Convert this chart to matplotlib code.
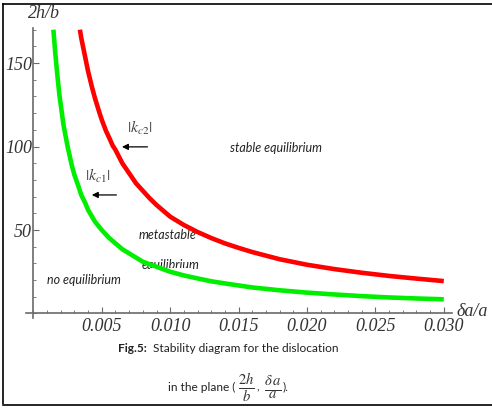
import matplotlib
matplotlib.use("Agg")
import matplotlib.pyplot as plt
from matplotlib.lines import Line2D
from matplotlib.patches import Rectangle
from matplotlib.ticker import MultipleLocator

# values
green_x = [0.00146, 0.0016, 0.00175, 0.0019, 0.002, 0.0022, 0.0025, 0.0028, 0.003,
           0.0033, 0.0035, 0.0038, 0.004, 0.0045, 0.005, 0.0055, 0.006, 0.0065,
           0.007, 0.0075, 0.008, 0.009, 0.010, 0.011, 0.012, 0.013, 0.014, 0.015,
           0.016, 0.018, 0.020, 0.022, 0.024, 0.026, 0.028, 0.030]
green_y = [170, 156, 143, 131, 125, 113, 100, 89, 83, 76, 71, 66, 62, 55, 50,
           45.5, 42, 38.5, 36, 33.5, 31, 28, 25, 22.8, 21, 19.3, 18, 16.8, 15.6,
           13.9, 12.5, 11.4, 10.4, 9.6, 9.0, 8.5]

red_x = [0.0034, 0.0035, 0.0037, 0.0039, 0.004, 0.0043, 0.0045, 0.0048, 0.005,
         0.0053, 0.0055, 0.0058, 0.006, 0.0065, 0.007, 0.0075, 0.008, 0.0085,
         0.009, 0.0095, 0.010, 0.011, 0.012, 0.013, 0.014, 0.015, 0.016, 0.018,
         0.020, 0.022, 0.024, 0.026, 0.028, 0.030]
red_y = [170, 165, 157, 149, 145, 135, 129, 121, 116, 109.5, 106, 100.5, 98, 90,
         84, 78, 73.5, 69, 65, 61.5, 58, 53, 48.8, 45.2, 42, 39.3, 36.8, 32.5,
         29.2, 26.6, 24.4, 22.5, 20.9, 19.4]

x_ticks = [0.005, 0.010, 0.015, 0.020, 0.025, 0.030]
x_tick_labels = ["0.005", "0.010", "0.015", "0.020", "0.025", "0.030"]
y_ticks = [50, 100, 150]
y_tick_labels = ["50", "100", "150"]

plt.rcParams['mathtext.fontset'] = 'stix'
serif = "Liberation Serif"
sans = ["Lato", "DejaVu Sans"]
axis_col = "#6a6a6a"

fig = plt.figure(figsize=(4.92, 4.08), dpi=100)
ax = fig.add_axes([26 / 492, 90 / 408, 426 / 492, 290 / 408])
ax.set_xlim(-0.00054, 0.0306)
ax.set_ylim(-2.7, 171)

ax.plot(green_x, green_y, color="#00ee00", lw=3.3, solid_capstyle="butt", zorder=3)
ax.plot(red_x, red_y, color="#ff0000", lw=3.3, solid_capstyle="butt", zorder=3)

for s in ["top", "right"]:
    ax.spines[s].set_visible(False)
ax.spines["left"].set_position(("data", 0))
ax.spines["bottom"].set_position(("data", 0))
for s in ["left", "bottom"]:
    ax.spines[s].set_color(axis_col)
    ax.spines[s].set_linewidth(1.2)

ax.set_xticks(x_ticks)
ax.set_xticklabels(x_tick_labels)
ax.set_yticks(y_ticks)
ax.set_yticklabels(y_tick_labels)
ax.xaxis.set_minor_locator(MultipleLocator(0.001))
ax.yaxis.set_minor_locator(MultipleLocator(10))
ax.tick_params(which="major", direction="in", length=4.5, width=0.8, color=axis_col, pad=3)
ax.tick_params(which="minor", direction="in", length=2.5, width=0.6, color=axis_col)
ax.tick_params(axis="y", pad=1)
for lab in ax.get_xticklabels() + ax.get_yticklabels():
    lab.set_fontfamily(serif)
    lab.set_fontstyle("italic")
    lab.set_fontsize(13)
    lab.set_color("#333333")

# region labels
reg = dict(fontfamily=sans, fontstyle="italic", fontsize=9, color="#222222")
ax.text(0.01776, 99.2, "stable equilibrium", ha="center", va="center", **reg)
ax.text(0.0098, 47, "metastable", ha="center", va="center", zorder=1, **reg)
ax.text(0.0100, 26.4, "equilibrium", ha="center", va="baseline", zorder=1, **reg)
# lower half of "equilibrium" is hidden in the original
ax.add_patch(Rectangle((0.0085, 15), 0.003, 12.0, facecolor="white", edgecolor="none", zorder=2))
ax.text(0.0037, 20, "no equilibrium", ha="center", va="center", **reg)

# arrows for critical values
ax.annotate("", xy=(0.00627, 99.8), xytext=(0.00854, 99.8),
            arrowprops=dict(arrowstyle="-|>", color="black", lw=0.9, mutation_scale=9))
ax.text(0.0078, 111, r"$|k_{c2}|$", ha="center", va="center", fontsize=11.5, color="#444444")
ax.annotate("", xy=(0.00407, 71), xytext=(0.00627, 71),
            arrowprops=dict(arrowstyle="-|>", color="black", lw=0.9, mutation_scale=9))
ax.text(0.00473, 82.5, r"$|k_{c1}|$", ha="center", va="center", fontsize=11.5, color="#444444")

# axis names
fig.text(28 / 492, 1 - 13 / 408, "2h/b", family=serif, style="italic", fontsize=13,
         ha="left", va="center", color="#333333")
fig.text(456 / 492, 1 - 312 / 408, "δa/a", family=serif, style="italic", fontsize=13,
         ha="left", va="center", color="#333333")

# caption
cap = dict(family=sans, fontsize=8.6, va="center", color="#222222")
fig.text(118 / 492, 1 - 349 / 408, "Fig.5:", weight="bold", ha="left", **cap)
fig.text(153 / 492, 1 - 349 / 408, "Stability diagram for the dislocation", ha="left", **cap)
fig.text(235 / 492, 1 - 387 / 408, "in the plane (", ha="right", **cap)
fig.text(246 / 492, 1 - 388 / 408, r"$\frac{2h}{b}$", ha="center", va="center",
         fontsize=15, color="#333333")
fig.text(258 / 492, 1 - 387 / 408, ",", ha="center", **cap)
fig.text(273 / 492, 1 - 388 / 408, r"$\frac{\delta\, a}{a}$", ha="center", va="center",
         fontsize=15, color="#333333")
fig.text(283 / 492, 1 - 387 / 408, ").", ha="left", **cap)

# page frame
fw, fh = 492, 408
fig.add_artist(Line2D([2.5 / fw, 2.5 / fw], [3.5 / fh, 1 - 3.5 / fh], color="black", lw=1.2,
                      transform=fig.transFigure))
fig.add_artist(Line2D([2.5 / fw, 1], [1 - 3.5 / fh, 1 - 3.5 / fh], color="black", lw=1.2,
                      transform=fig.transFigure))
fig.add_artist(Rectangle((0, 0), 1, 4 / fh, facecolor="white", edgecolor="none",
                         transform=fig.transFigure, zorder=9))
fig.add_artist(Line2D([2.5 / fw, 1], [3.5 / fh, 3.5 / fh], color="black", lw=1.2,
                      transform=fig.transFigure, zorder=10))

fig.savefig("out.png", dpi=100)
